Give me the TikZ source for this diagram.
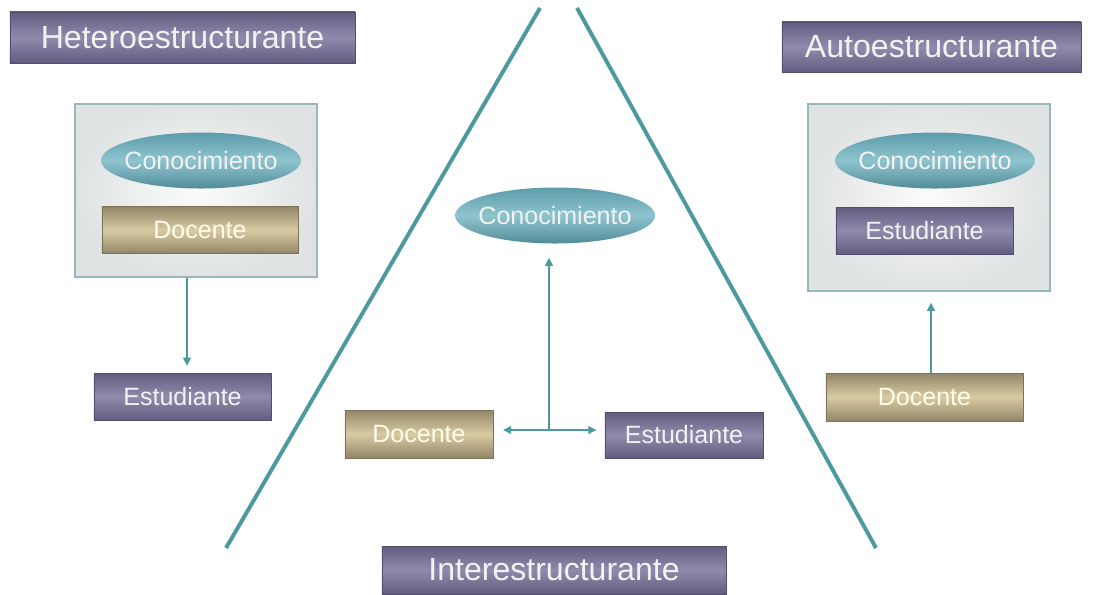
\documentclass[tikz,border=0pt]{standalone}
\usepackage{fontspec}
\setmainfont{Liberation Sans}
\usetikzlibrary{positioning,calc,arrows.meta,shapes.geometric}
\definecolor{slatepurple}{RGB}{96,93,128}
\definecolor{slatelight}{RGB}{142,139,172}
\definecolor{sandgold}{RGB}{146,134,104}
\definecolor{sandlight}{RGB}{216,202,162}
\definecolor{tealdark}{RGB}{92,156,170}
\definecolor{teallight}{RGB}{142,196,206}
\definecolor{tealline}{RGB}{76,154,158}
\definecolor{framegray}{RGB}{224,227,227}
\definecolor{frameedge}{RGB}{150,184,184}

\begin{document}
\begin{tikzpicture}[x=0.025cm,y=-0.025cm,
   titlebox/.style={draw=slatepurple!85!black,top color=slatepurple,bottom color=slatepurple,
               middle color=slatelight,inner sep=0pt,text=white!95!black,
               font=\fontsize{22.8}{26}\selectfont},
   pbox/.style={draw=slatepurple!85!black,top color=slatepurple,bottom color=slatepurple,
               middle color=slatelight,inner sep=0pt,text=white!95!black,
               font=\fontsize{17.8}{20}\selectfont},
   gbox/.style={draw=sandgold!85!black,top color=sandgold,bottom color=sandgold,
               middle color=sandlight,inner sep=0pt,text=white!92!yellow,
               font=\fontsize{17.8}{20}\selectfont},
   know/.style={ellipse,draw=none,top color=tealdark,bottom color=tealdark!90!black,
               middle color=teallight,inner xsep=-8pt,inner ysep=0pt,minimum width=5cm,
               minimum height=1.4cm,text=white!95!black,font=\fontsize{17.8}{20}\selectfont},
   frame/.style={draw=frameedge,inner color=white!97!gray,outer color=framegray,
               line width=0.8pt,inner sep=0pt},
   side/.style={draw=tealline,line width=2.8pt},
   arr/.style={-{Triangle[length=2mm,width=2mm]},line width=0.9pt,color=tealline},
   arr2/.style={{Triangle[length=2mm,width=2mm]}-{Triangle[length=2mm,width=2mm]},
               line width=0.9pt,color=tealline}]
  \useasboundingbox (0,0) rectangle (1096,594);

  % triangle sides
  \coordinate (lt) at (540,8);   \coordinate (lb) at (226,548);
  \coordinate (rt) at (577,8);   \coordinate (rb) at (876,548);
  \draw[side] (lt) -- (lb);
  \draw[side] (rt) -- (rb);

  % hetero
  \node[titlebox,minimum width=8.625cm,minimum height=1.275cm] (hetT) at (182.5,37.5) {Heteroestructurante};
  \node[frame,minimum width=6.05cm,minimum height=4.325cm] (hetF) at (196,190.5) {};
  \node[know] (hetK) at (201,160.5) {Conocimiento};
  \node[gbox,minimum width=4.9cm,minimum height=1.175cm] (hetD) at (200,230) {Docente};
  \node[pbox,minimum width=4.425cm,minimum height=1.175cm] (hetE) at (182.5,396.5) {Estudiante};
  \draw[arr,shorten >=5pt] (hetF.south -| 187,0) -- (hetE.north -| 187,0);

  % inter
  \node[know] (intK) at (555,215.5) {Conocimiento};
  \node[gbox,minimum width=3.7cm,minimum height=1.2cm] (intD) at (419,434) {Docente};
  \node[pbox,minimum width=3.95cm,minimum height=1.15cm] (intE) at (684,435) {Estudiante};
  \node[titlebox,minimum width=8.6cm,minimum height=1.2cm] (intT) at (554,570) {Interestructurante};
  \coordinate (hub) at (549,430);
  \draw[arr,shorten >=10pt] (hub) -- (hub |- intK.south);
  \draw[arr2,shorten <=7pt,shorten >=6pt] (hub -| intD.east) -- (hub -| intE.west);

  % auto
  \node[titlebox,minimum width=7.475cm,minimum height=1.25cm] (autT) at (931.5,47) {Autoestructurante};
  \node[frame,minimum width=6.05cm,minimum height=4.675cm] (autF) at (929,197.5) {};
  \node[know] (autK) at (935,160.5) {Conocimiento};
  \node[pbox,minimum width=4.425cm,minimum height=1.175cm] (autE) at (924.5,230.5) {Estudiante};
  \node[gbox,minimum width=4.925cm,minimum height=1.2cm] (autD) at (924.5,397) {Docente};
  \draw[arr,shorten >=8pt] (autD.north -| 931,0) -- (autF.south -| 931,0);
\end{tikzpicture}
\end{document}
